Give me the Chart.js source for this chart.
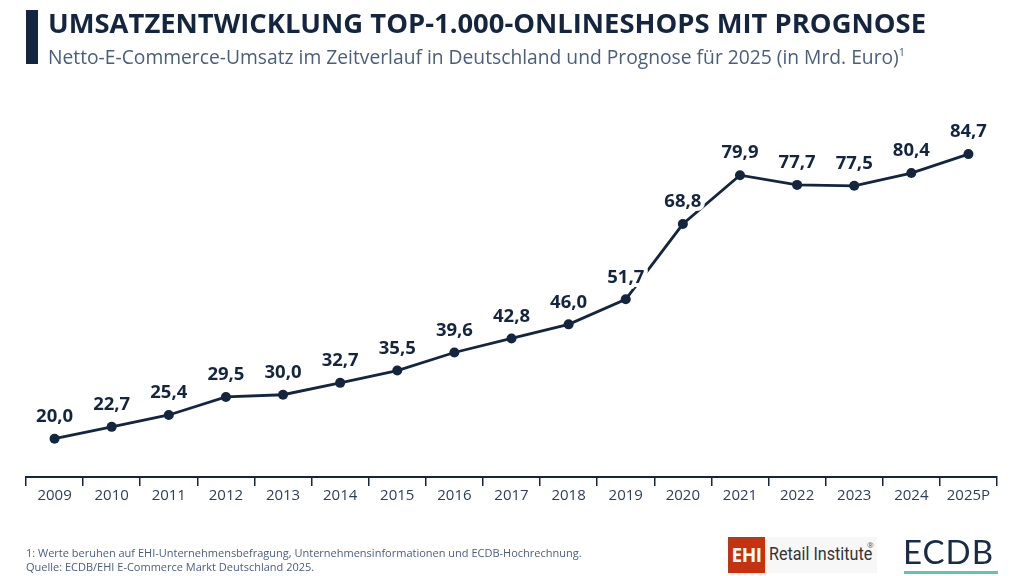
<!DOCTYPE html>
<html><head><meta charset="utf-8">
<script src="https://cdn.jsdelivr.net/npm/chart.js@4"></script>
<style>
html,body{margin:0;padding:0;background:#fff;width:1024px;height:576px;overflow:hidden;font-family:"Open Sans",sans-serif;}
#wrap{position:absolute;left:0;top:0;width:1024px;height:576px;}
.bar{position:absolute;left:26px;top:10px;width:12px;height:54px;background:#14263f;}
.title{position:absolute;left:48px;top:4px;font-size:27.4px;font-weight:700;color:#14263f;white-space:nowrap;}
.sub{position:absolute;left:48px;top:43px;font-size:19.25px;color:#4a5e7c;white-space:nowrap;}
.sub sup{font-size:11px;vertical-align:8px;line-height:0;}
.foot{position:absolute;left:26px;top:546px;font-size:11px;line-height:13.5px;color:#4a5e7c;white-space:nowrap;}
.ehi{position:absolute;left:728px;top:537px;width:37px;height:36px;background:#c4320f;color:#fff;font-weight:700;font-size:19px;text-align:center;line-height:36px;font-family:"Open Sans",sans-serif;letter-spacing:-0.5px;}
.ehibg{position:absolute;left:765px;top:537px;width:112px;height:36px;background:#f7f7f7;}
.ret{position:absolute;left:769px;top:542px;font-family:"Roboto",sans-serif;font-size:19px;color:#333;white-space:nowrap;transform:scaleX(0.85);transform-origin:0 0;}
.reg{position:absolute;left:867px;top:539px;font-size:8px;color:#555;}
.ecdb{position:absolute;left:903px;top:533px;font-family:"Lato","Open Sans",sans-serif;font-weight:400;font-size:33px;color:#1a2b45;letter-spacing:1px;line-height:36px;}
.ecline{position:absolute;left:904px;top:571px;width:94px;height:3px;background:#5cc9a7;}
</style></head><body>
<div id="wrap"><canvas id="c" width="1024" height="576"></canvas></div>
<div class="bar"></div>
<div class="title">UMSATZENTWICKLUNG TOP-1.000-ONLINESHOPS MIT PROGNOSE</div>
<div class="sub">Netto-E-Commerce-Umsatz im Zeitverlauf in Deutschland und Prognose für 2025 (in Mrd. Euro)<sup>1</sup></div>
<div class="foot">1: Werte beruhen auf EHI-Unternehmensbefragung, Unternehmensinformationen und ECDB-Hochrechnung.<br>Quelle: ECDB/EHI E-Commerce Markt Deutschland 2025.</div>
<div class="ehibg"></div>
<div class="ehi">EHI</div>
<div class="ret">Retail Institute</div>
<div class="reg">®</div>
<div class="ecdb">ECDB</div>
<div class="ecline"></div>
<script>
const categories = ["2009","2010","2011","2012","2013","2014","2015","2016","2017","2018","2019","2020","2021","2022","2023","2024","2025P"];
const revenue = [20.0,22.7,25.4,29.5,30.0,32.7,35.5,39.6,42.8,46.0,51.7,68.8,79.9,77.7,77.5,80.4,84.7];
const valueLabels = ["20,0","22,7","25,4","29,5","30,0","32,7","35,5","39,6","42,8","46,0","51,7","68,8","79,9","77,7","77,5","80,4","84,7"];

const navy = "#14263f";
const labelPlugin = {
  id: "valueLabels",
  afterDatasetsDraw(chart) {
    const ctx = chart.ctx;
    const meta = chart.getDatasetMeta(0);
    ctx.save();
    ctx.font = "700 18.5px 'Open Sans', sans-serif";
    ctx.textAlign = "center";
    ctx.textBaseline = "middle";
    meta.data.forEach((pt, i) => {
      const x = pt.x, y = pt.y - 22;
      ctx.lineWidth = 8;
      ctx.strokeStyle = "#fff";
      ctx.lineJoin = "round";
      ctx.strokeText(valueLabels[i], x, y);
      ctx.fillStyle = navy;
      ctx.fillText(valueLabels[i], x, y);
    });
    ctx.restore();
  }
};

new Chart(document.getElementById("c"), {
  type: "line",
  data: {
    labels: categories,
    datasets: [{
      data: revenue,
      borderColor: navy,
      backgroundColor: navy,
      borderWidth: 2.8,
      pointRadius: 5,
      pointBackgroundColor: navy,
      pointBorderWidth: 0,
      tension: 0
    }]
  },
  options: {
    responsive: false,
    animation: false,
    devicePixelRatio: 1,
    layout: { padding: { left: 26, right: 27, top: 100, bottom: 70 } },
    plugins: { legend: { display: false }, tooltip: { enabled: false } },
    scales: {
      x: {
        offset: true,
        grid: { offset: true, drawOnChartArea: false, drawTicks: true, tickLength: 9, color: navy, lineWidth: 1.5 },
        border: { display: true, color: navy, width: 2 },
        ticks: { color: "#2d3e5a", font: { family: "'Open Sans', sans-serif", size: 15 }, padding: 1, maxRotation: 0, autoSkip: false }
      },
      y: { display: false, min: 11.3, max: 97 }
    }
  },
  plugins: [labelPlugin]
});
</script>
</body></html>
